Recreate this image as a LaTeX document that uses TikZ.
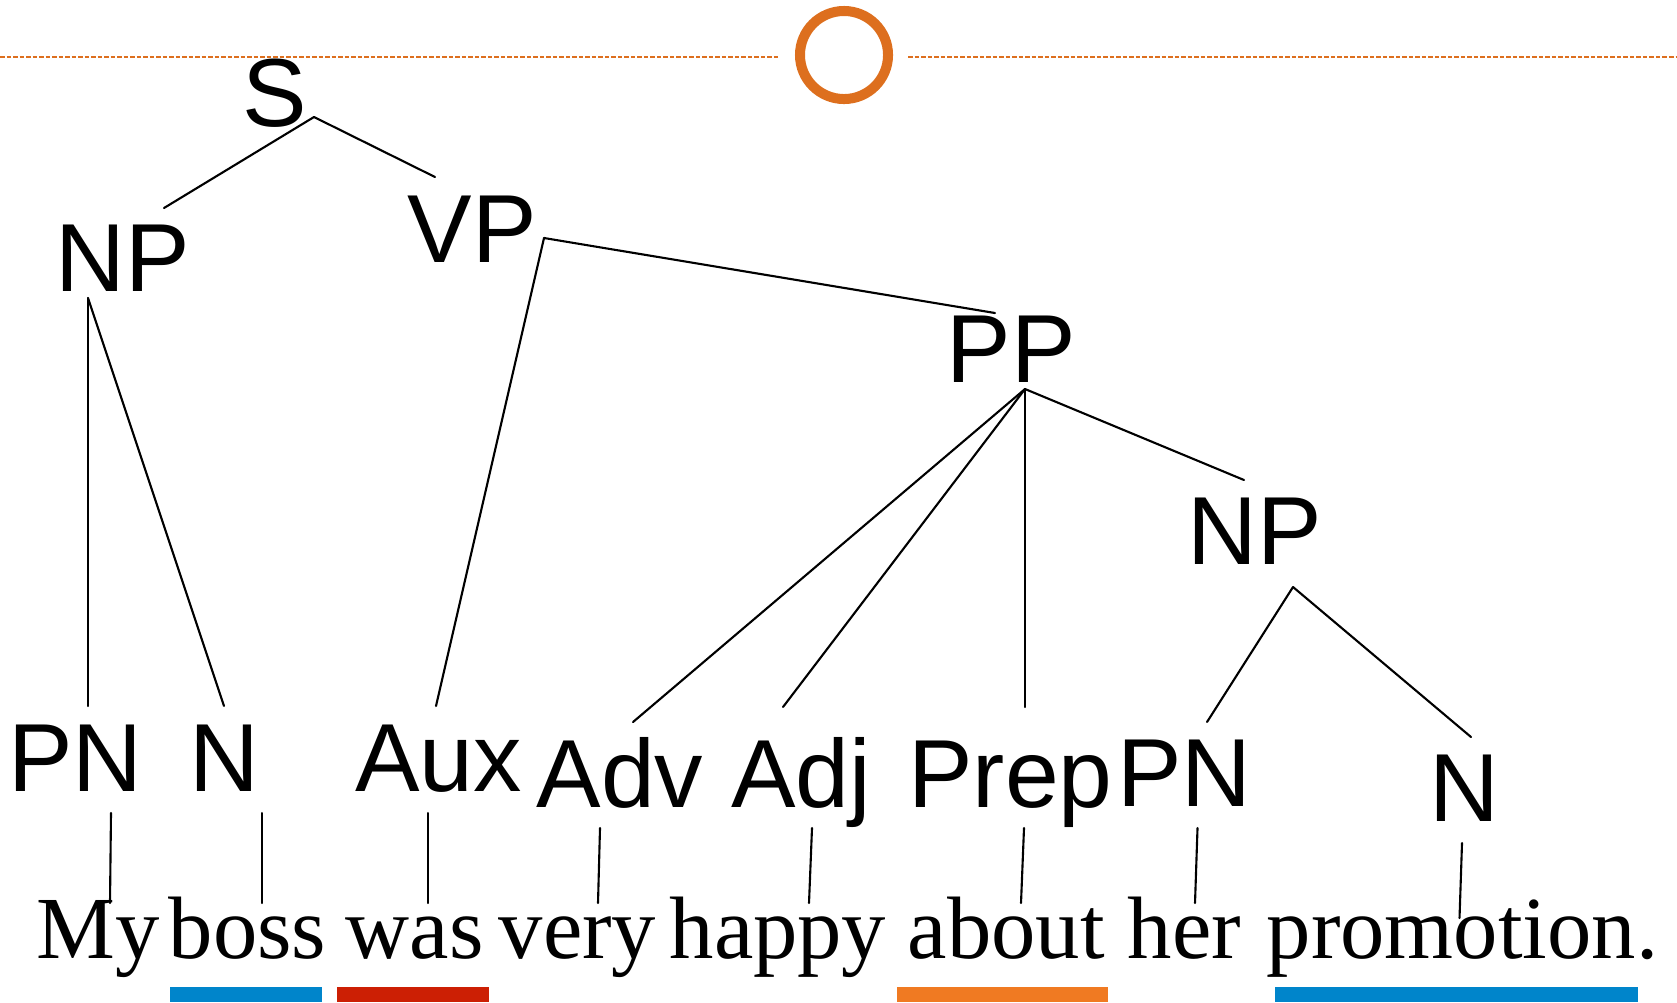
\documentclass[tikz,border=0pt]{standalone}
\usepackage{fontspec}
\usepackage{tkz-euclide}
\setmainfont{Liberation Serif}
\newfontfamily\tagfont{Liberation Sans}
\definecolor{lineorange}{HTML}{DD6F1E}
\definecolor{barblue}{HTML}{0085CB}
\definecolor{barred}{HTML}{CC1F04}
\definecolor{barorange}{HTML}{F07A22}
\tikzset{
    tag/.style={anchor=base, inner sep=0pt, font=\tagfont\fontsize{27.5}{30}\selectfont},
    word/.style={anchor=base west, inner sep=0pt, font=\fontsize{25.2}{28}\selectfont},
    topline/.style={lineorange, line width=0.022cm, dash pattern=on 0.045cm off 0.02cm},
    ring/.style={lineorange, line width=0.1cm}
}

\begin{document}
\begin{tikzpicture}[x=0.01cm, y=-0.01cm]
    \useasboundingbox (0,0) rectangle (1677,1002);
    \draw[topline] (0,57) -- (778,57);
    \draw[topline] (908,57) -- (1677,57);
    \draw[ring] (844,55) circle (0.44cm);
    % phrase labels
    \node[tag] (S) at (275,126) {S};
    \node[tag] (NPa) at (122.5,291) {NP};
    \node[tag] (VP) at (472,262) {VP};
    \node[tag] (PP) at (1011,382) {PP};
    \node[tag] (NPb) at (1255,564) {NP};
    \node[tag] (PNa) at (75.5,791) {PN};
    \node[tag] (Na) at (224,791) {N};
    \node[tag] (Aux) at (438.5,791) {Aux};
    \node[tag] (Adv) at (620,807) {Adv};
    \node[tag] (Adj) at (801,807) {Adj};
    \node[tag] (Prep) at (1010.5,807) {Prep};
    \node[tag] (PNb) at (1184.5,806) {PN};
    \node[tag] (Nb) at (1464,821) {N};
    % sentence
    \node[word] (my) at (36,958) {My};
    \node[word] (boss) at (168,958) {boss};
    \node[word] (was) at (345,958) {was};
    \node[word] (very) at (498,958) {very};
    \node[word] (happy) at (669,958) {happy};
    \node[word] (about) at (907,958) {about};
    \node[word] (her) at (1127,958) {her};
    \node[word] (promotion) at (1266,958) {promotion.};
    % branches
    \tkzDefPoints{314/117/Sa, 164/208/Sb, 435/177/Sc,
                  88/298/Na, 88/706/Nb, 224/706/Nc,
                  544/238/Va, 436/706/Vb, 995/313/Vc,
                  1025/389/Pa, 633/722/Pb, 783/707/Pc, 1025/707/Pd, 1244/480/Pe,
                  1293/587/Qa, 1207/722/Qb, 1471/737/Qc}
    \tkzDrawSegments[line width=0.6pt, black](Sa,Sb Sa,Sc Na,Nb Na,Nc Va,Vb Va,Vc
        Pa,Pb Pa,Pc Pa,Pd Pa,Pe Qa,Qb Qa,Qc)
    % leaves
    \tkzDefPoints{111/813/a1, 110/903/b1, 262/813/a2, 262/903/b2,
                  428/813/a3, 428/903/b3, 600/828/a4, 598/903/b4,
                  812/828/a5, 809/903/b5, 1024/828/a6, 1021/903/b6,
                  1197.5/828/a7, 1195/903/b7, 1462/843/a8, 1459.5/918/b8}
    \tkzDrawSegments[line width=0.6pt, black](a1,b1 a2,b2 a3,b3 a4,b4
        a5,b5 a6,b6 a7,b7 a8,b8)
    % underlines
    \fill[barblue] (170,987) rectangle (322,1002);
    \fill[barred] (337,987) rectangle (488.5,1002);
    \fill[barorange] (897,987) rectangle (1108,1002);
    \fill[barblue] (1275,987) rectangle (1638,1002);
\end{tikzpicture}
\end{document}
